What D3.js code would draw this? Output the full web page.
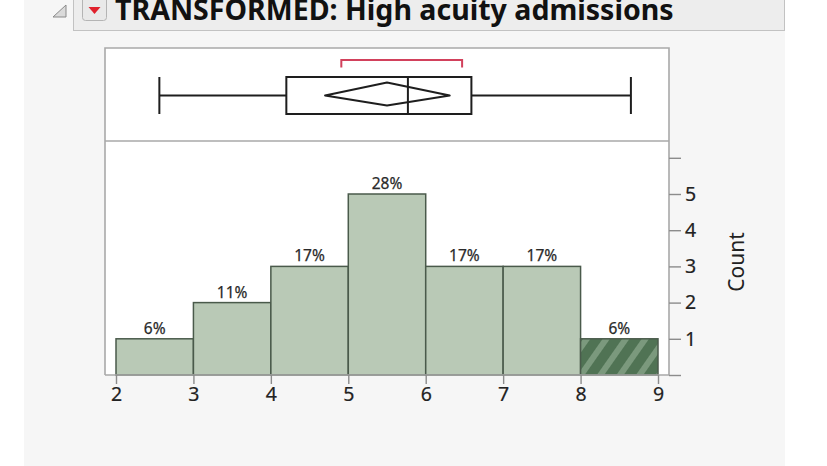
<!DOCTYPE html>
<html>
<head>
<meta charset="utf-8">
<script src="https://cdn.jsdelivr.net/npm/d3@7"></script>
<style>
  html, body { margin: 0; padding: 0; background: #ffffff; }
  svg { display: block; }
  text { font-family: "Noto Sans", "Open Sans", sans-serif; }
</style>
</head>
<body>
<svg id="chart" width="827" height="466"></svg>
<script>
// Histogram bins (edges) and counts per bin
const binEdges = [2, 3, 4, 5, 6, 7, 8, 9];
const binCounts = [1, 2, 3, 5, 3, 3, 1];
const selectedBins = [false, false, false, false, false, false, true];

// Axis ticks
const xTickValues = [2, 3, 4, 5, 6, 7, 8, 9];
const countTickValues = [0, 1, 2, 3, 4, 5, 6];
const countTickLabels = ["", "1", "2", "3", "4", "5", ""];

// Outlier box plot summary: min, Q1, median, Q3, max
const quantiles = [2.56, 4.20, 5.77, 6.59, 8.65];
// Mean with its confidence interval: lower, mean, upper
const meanDiamond = [4.70, 5.50, 6.31];
// Shortest half bracket
const shortestHalf = [4.91, 6.47];

const titleText = "TRANSFORMED: High acuity admissions";
const countTitle = "Count";

const svg = d3.select("#chart");

// Report panel background
svg.append("rect").attr("x", 24).attr("y", 0).attr("width", 761).attr("height", 466)
  .attr("fill", "#f6f6f6");

// Outline title bar
svg.append("rect").attr("x", 73.5).attr("y", -6).attr("width", 711).attr("height", 36.5)
  .attr("fill", "#ededed").attr("stroke", "#c2c2c2").attr("stroke-width", 1);

// Disclosure triangle
svg.append("path").attr("d", "M53,17 L66,17 L66,5 Z")
  .attr("fill", "#dadada").attr("stroke", "#8a8a8a").attr("stroke-width", 1);

// Red popup button
svg.append("rect").attr("x", 82.5).attr("y", -3).attr("width", 24).attr("height", 23.5).attr("rx", 3)
  .attr("fill", "#e9e9e9").attr("stroke", "#b4b4b4");
svg.append("path").attr("d", "M88.5,7 L100.5,7 L94.5,14 Z").attr("fill", "#e0212c");

// Title, sized to its measured width
const title = svg.append("text").attr("x", 115).attr("y", 19.5)
  .attr("font-weight", "bold").attr("font-size", 28).attr("fill", "#111")
  .text(titleText);
const tw = title.node().getComputedTextLength();
title.attr("font-size", 28 * 559 / tw);

// Frame geometry
const frameL = 105, frameR = 669, frameT = 48, divY = 141, baseY = 375;

// Scales
const x = d3.scaleLinear().domain([2, 9]).range([116, 658]);
const y = d3.scaleLinear().domain([0, 6]).range([baseY, baseY - 6 * 36.2]);

// Plot frame background
svg.append("rect").attr("x", frameL).attr("y", frameT)
  .attr("width", frameR - frameL).attr("height", baseY - frameT)
  .attr("fill", "#ffffff");

// Hatch pattern for the selected bin
const defs = svg.append("defs");
const pat = defs.append("pattern").attr("id", "hatch").attr("patternUnits", "userSpaceOnUse")
  .attr("width", 16).attr("height", 16).attr("patternTransform", "rotate(35)");
pat.append("rect").attr("width", 16).attr("height", 16).attr("fill", "#507354");
pat.append("rect").attr("x", 0).attr("width", 6).attr("height", 16).attr("fill", "#7b997d");

// Histogram bars
const bins = binCounts.map((c, i) => ({ x0: binEdges[i], x1: binEdges[i + 1], count: c, sel: selectedBins[i] }));
const total = d3.sum(binCounts);

svg.append("g").selectAll("rect").data(bins).join("rect")
  .attr("x", d => x(d.x0))
  .attr("y", d => y(d.count))
  .attr("width", d => x(d.x1) - x(d.x0))
  .attr("height", d => y(0) - y(d.count))
  .attr("fill", d => d.sel ? "url(#hatch)" : "#b9c9b6")
  .attr("stroke", "#4a5a4b")
  .attr("stroke-width", 1.5);

// Percent labels above bars
svg.append("g").selectAll("text").data(bins).join("text")
  .attr("x", d => (x(d.x0) + x(d.x1)) / 2)
  .attr("y", d => y(d.count) - 5)
  .attr("text-anchor", "middle")
  .attr("font-size", 15.5)
  .attr("fill", "#2a2a2a")
  .attr("stroke", "#2a2a2a").attr("stroke-width", 0.25)
  .text(d => Math.round(d.count / total * 100) + "%");

// Frame lines
const frameColor = "#a9a9a9";
svg.append("path")
  .attr("d", `M${frameL},${baseY} L${frameL},${frameT} L${frameR},${frameT} L${frameR},${baseY}`)
  .attr("fill", "none").attr("stroke", frameColor).attr("stroke-width", 1.6);
svg.append("line").attr("x1", frameL).attr("x2", frameR).attr("y1", divY).attr("y2", divY)
  .attr("stroke", frameColor).attr("stroke-width", 1.6);

// X axis (bottom)
const xAxis = d3.axisBottom(x).tickValues(xTickValues).tickSize(9).tickPadding(3).tickSizeOuter(0)
  .tickFormat(d3.format("d"));
const gx = svg.append("g").attr("transform", `translate(0,${baseY})`).call(xAxis);
gx.select(".domain").attr("d", `M${frameL},0 H${frameR}`).attr("stroke", frameColor).attr("stroke-width", 1.6);
gx.selectAll(".tick line").attr("stroke", "#8c8c8c").attr("stroke-width", 1.4);
gx.selectAll(".tick text").attr("font-size", 19.5).attr("fill", "#222")
  .attr("stroke", "#222").attr("stroke-width", 0.2)
  .attr("font-family", "'Noto Sans', sans-serif");

// Count axis (right)
const yAxis = d3.axisRight(y).tickValues(countTickValues).tickSize(12).tickPadding(4).tickSizeOuter(0)
  .tickFormat((d, i) => countTickLabels[i]);
const gy = svg.append("g").attr("transform", `translate(${frameR},0)`).call(yAxis);
gy.select(".domain").remove();
gy.selectAll(".tick line").attr("stroke", "#8c8c8c").attr("stroke-width", 1.4);
gy.selectAll(".tick text").attr("font-size", 19.5).attr("fill", "#222")
  .attr("stroke", "#222").attr("stroke-width", 0.2)
  .attr("font-family", "'Noto Sans', sans-serif");

svg.append("text")
  .attr("transform", `translate(744,262) rotate(-90)`)
  .attr("text-anchor", "middle")
  .attr("font-size", 21)
  .attr("fill", "#222")
  .text(countTitle);

// Box plot
const bpY = 95.5, boxTop = 77, boxBot = 114;
const [qMin, q1, med, q3, qMax] = quantiles;
const box = svg.append("g").attr("stroke", "#1e1e1e").attr("stroke-width", 2).attr("fill", "none");
box.append("line").attr("x1", x(qMin)).attr("x2", x(q1)).attr("y1", bpY).attr("y2", bpY);
box.append("line").attr("x1", x(q3)).attr("x2", x(qMax)).attr("y1", bpY).attr("y2", bpY);
box.append("line").attr("x1", x(qMin)).attr("x2", x(qMin)).attr("y1", boxTop).attr("y2", boxBot);
box.append("line").attr("x1", x(qMax)).attr("x2", x(qMax)).attr("y1", boxTop).attr("y2", boxBot);
box.append("rect").attr("x", x(q1)).attr("y", boxTop).attr("width", x(q3) - x(q1)).attr("height", boxBot - boxTop);
box.append("line").attr("x1", x(med)).attr("x2", x(med)).attr("y1", boxTop).attr("y2", boxBot);
const [mLo, mean, mHi] = meanDiamond;
box.append("path")
  .attr("d", `M${x(mLo)},${bpY} L${x(mean)},82.5 L${x(mHi)},${bpY} L${x(mean)},105.5 Z`)
  .attr("stroke-linejoin", "round");

// Shortest half bracket
svg.append("path")
  .attr("d", `M${x(shortestHalf[0])},67.5 V60 H${x(shortestHalf[1])} V67.5`)
  .attr("fill", "none").attr("stroke", "#d2415c").attr("stroke-width", 2);
</script>
</body>
</html>
